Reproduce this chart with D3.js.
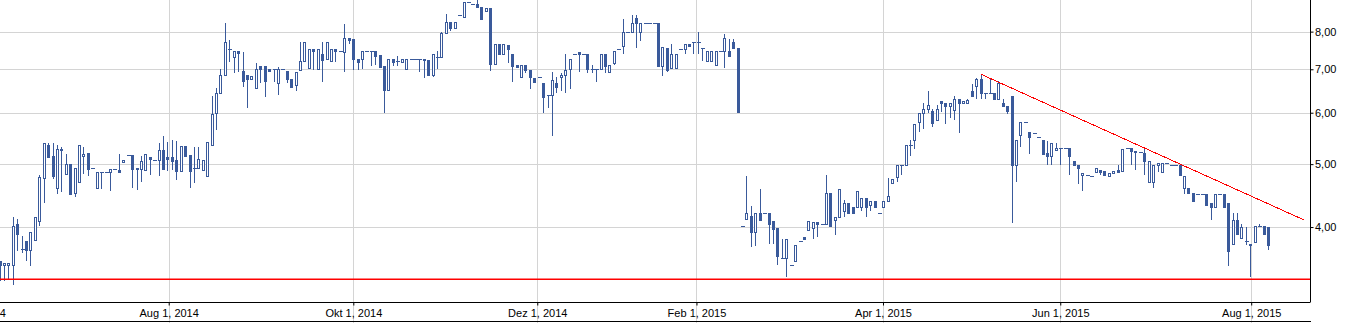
<!DOCTYPE html>
<html>
<head>
<meta charset="utf-8">
<script src="https://cdn.jsdelivr.net/npm/d3@7"></script>
<style>
  body { margin: 0; background: #fff; }
  text { font-family: "Liberation Sans", Arial, sans-serif; font-size: 11px; fill: #000; }
</style>
</head>
<body>
<div id="chart"></div>
<script>
// daily candles, one per trading record (index = position on x axis)
const open = [
  3.55,3.49,3.49,3.49,4.05,3.70,3.81,3.69,3.82,4.09, 4.76,5.36,5.14,4.60,5.27,4.83,5.01,4.52,4.70,5.14,
  5.20,4.93,4.60,4.86,4.86,4.86,4.91,4.89,5.04,5.16, 5.16,4.91,4.91,4.89,5.12,5.08,5.08,5.25,5.12,5.12,
  5.08,4.88,5.33,5.16,4.93,4.93,4.90,4.80,5.35,5.99, 6.43,6.86,7.51,7.30,7.46,6.96,6.85,6.77,6.54,7.07,
  7.07,7.00,7.00,6.66,7.00,6.96,6.76,6.61,6.98,7.20, 7.02,7.51,7.00,7.40,7.25,7.22,7.51,7.46,7.43,7.81,
  7.78,7.27,7.27,7.48,7.48,7.46,7.36,7.08,6.51,7.25, 7.21,7.19,7.00,7.25,7.25,7.27,7.27,7.23,6.85,7.30,
  7.30,7.97,8.29,8.09,8.50,8.44,8.88,8.81,8.81,8.72, 8.62,8.69,7.12,7.65,7.40,7.62,7.40,7.10,6.80,7.10,
  6.98,6.78,6.80,6.66,6.38,6.38,6.66,6.80,6.85,7.00, 7.40,7.43,7.40,7.40,7.00,7.00,7.00,7.40,6.93,7.15,
  7.51,7.60,8.00,8.00,8.41,8.00,8.24,8.24,8.24,8.24, 7.07,7.54,7.02,7.02,7.51,7.51,7.67,7.72,7.72,7.54,
  7.20,7.20,7.10,7.48,7.48,7.46,7.70,7.54,4.02,4.11, 4.16,3.93,4.20,4.20,4.21,4.08,3.98,3.59,3.59,3.49,
  3.54,3.80,3.86,3.96,3.98,4.07,4.05,4.05,4.52,4.10, 4.15,4.24,4.35,4.29,4.30,4.30,4.44,4.32,4.38,4.20,
  4.29,4.38,4.67,4.77,4.98,4.99,5.36,5.44,5.80,5.99, 6.07,6.03,5.84,6.25,6.20,6.14,6.05,6.29,6.20,6.20,
  6.49,6.59,6.76,6.43,6.43,6.43,6.29,6.20,6.14,6.36, 4.99,5.54,5.80,5.60,5.58,5.50,5.44,5.21,5.14,5.25,
  5.30,5.30,5.30,5.05,4.99,4.81,4.81,4.79,4.86,4.89, 4.88,4.79,4.84,4.89,4.88,5.29,5.29,5.24,5.22,5.20,
  4.70,4.70,4.99,4.86,5.02,4.99,4.99,4.99,4.60,4.60, 4.52,4.50,4.50,4.49,4.35,4.30,4.49,4.49,4.35,3.76,
  4.10,3.85,3.80,3.77,3.79,4.02,4.02,4.00
];
const high = [
  3.55,3.52,3.52,4.14,4.11,3.88,3.81,3.93,4.15,4.81, 5.38,5.38,5.38,5.36,5.32,5.19,5.01,4.93,5.36,5.31,
  5.20,4.93,4.86,4.86,4.86,4.91,4.91,5.19,5.08,5.16, 5.16,4.94,5.14,5.18,5.12,5.08,5.38,5.52,5.40,5.44,
  5.42,5.33,5.33,5.16,5.31,5.32,5.07,5.40,6.37,6.54, 7.01,8.24,7.76,7.48,7.46,7.44,6.85,6.83,7.15,7.07,
  7.07,7.00,7.00,7.05,7.00,6.96,6.76,6.93,7.70,7.70, 7.51,7.51,7.51,7.70,7.70,7.51,7.51,7.46,8.22,7.81,
  7.78,7.27,7.46,7.48,7.48,7.46,7.36,7.08,7.25,7.25, 7.33,7.27,7.25,7.25,7.25,7.27,7.27,7.23,7.40,7.46,
  7.98,8.51,8.29,8.29,8.50,8.88,8.88,8.81,8.95,8.72, 8.69,8.69,7.65,7.65,7.67,7.62,7.40,7.10,7.10,7.10,
  6.98,6.78,6.80,6.66,6.38,6.93,6.80,6.92,7.40,7.27, 7.40,7.43,7.40,7.40,7.10,7.00,7.40,7.40,7.10,7.46,
  7.51,8.38,8.00,8.50,8.50,8.24,8.24,8.24,8.24,8.24, 7.57,7.54,7.66,7.40,7.51,7.67,7.67,7.72,7.98,7.54,
  7.48,7.48,7.48,7.48,7.93,7.78,7.78,7.54,4.02,4.79, 4.31,4.20,4.58,4.20,4.21,4.08,3.98,3.84,3.83,3.49,
  3.75,3.80,3.86,4.08,4.07,4.07,4.05,4.81,4.52,4.15, 4.58,4.40,4.35,4.29,4.54,4.44,4.44,4.38,4.38,4.20,
  4.38,4.76,4.74,4.98,4.98,5.36,5.44,5.76,5.99,6.20, 6.47,6.07,6.16,6.25,6.20,6.20,6.36,6.29,6.25,6.29,
  6.64,6.79,6.88,6.43,6.76,6.43,6.71,6.31,6.14,6.36, 5.44,5.80,5.80,5.60,5.58,5.50,5.44,5.42,5.38,5.38,
  5.30,5.30,5.30,5.05,4.99,4.84,4.81,4.79,4.94,4.89, 4.88,4.84,4.88,4.99,5.27,5.29,5.29,5.24,5.22,5.27,
  5.05,4.99,5.02,5.02,5.02,4.99,4.99,4.99,4.79,4.60, 4.52,4.50,4.50,4.49,4.35,4.49,4.49,4.49,4.35,4.20,
  4.20,4.05,4.00,3.77,4.02,4.04,4.02,4.00
];
const low = [
  3.30,3.30,3.31,3.26,3.68,3.65,3.54,3.48,3.82,4.01, 4.35,5.11,4.74,4.49,4.53,4.83,4.49,4.45,4.70,4.83,
  4.80,4.93,4.60,4.58,4.86,4.55,4.91,4.87,5.04,5.16, 4.59,4.56,4.70,4.89,4.81,5.08,4.80,4.92,4.88,4.89,
  4.73,4.88,5.14,4.59,4.68,4.93,4.90,4.80,5.35,5.65, 6.43,6.86,7.19,6.90,6.94,6.58,6.11,6.77,6.54,6.66,
  6.35,6.96,6.70,6.40,7.00,6.66,6.58,6.48,6.98,7.20, 7.02,6.98,7.00,6.70,7.25,7.22,7.19,7.46,6.94,7.67,
  6.98,6.98,7.00,7.48,7.08,7.11,7.05,5.99,6.51,7.09, 7.09,7.19,7.00,7.25,7.25,6.94,6.79,6.85,6.82,7.00,
  7.30,7.97,8.02,8.09,8.50,8.44,8.88,8.81,8.69,8.37, 8.62,6.96,7.12,7.40,7.40,7.15,6.70,7.06,6.80,6.90,
  6.52,6.70,6.80,5.99,6.10,5.53,6.43,6.48,6.43,6.52, 7.40,6.94,7.40,6.90,6.90,6.70,7.00,6.90,6.90,7.10,
  7.51,7.40,8.00,8.00,7.54,7.75,8.24,8.24,8.24,7.06, 6.83,6.94,7.02,7.02,7.51,7.40,7.60,7.40,7.40,7.20,
  7.20,7.20,7.10,7.48,7.02,7.35,7.54,6.01,4.02,4.11, 3.72,3.74,4.10,4.20,3.77,3.76,3.49,3.59,3.35,3.49,
  3.54,3.80,3.84,3.96,3.84,3.86,4.05,4.05,4.02,3.89, 4.15,4.15,4.20,4.20,4.30,4.24,4.14,4.24,4.30,4.20,
  4.29,4.38,4.67,4.70,4.81,4.99,5.14,5.27,5.61,5.67, 5.99,5.70,5.84,6.01,5.76,5.88,5.84,5.59,6.20,6.20,
  6.36,6.31,6.29,6.29,6.43,6.27,6.29,6.14,5.97,4.06, 4.70,5.32,5.80,5.19,5.58,5.50,5.19,4.99,4.99,5.25,
  4.99,5.30,4.81,4.99,4.66,4.54,4.81,4.79,4.86,4.81, 4.81,4.79,4.84,4.86,4.88,5.29,4.99,4.89,5.22,4.81,
  4.70,4.60,4.86,4.86,5.02,4.99,4.99,4.81,4.50,4.49, 4.39,4.50,4.50,4.32,4.10,4.30,4.49,4.30,3.48,3.76,
  3.90,3.85,3.75,3.35,3.79,4.02,3.90,3.69
];
const close = [
  3.49,3.52,3.52,4.02,3.90,3.70,3.69,3.93,4.15,4.77, 5.38,5.13,4.80,5.27,5.25,5.01,4.49,4.93,5.36,5.19,
  4.92,4.93,4.86,4.86,4.86,4.91,4.91,4.87,5.08,5.16, 4.91,4.94,5.05,5.18,5.10,5.08,5.25,4.92,5.10,5.05,
  4.88,5.33,5.14,4.88,4.93,5.10,5.07,5.40,5.97,6.43, 6.85,7.70,7.51,7.48,7.41,6.71,6.77,6.83,7.00,7.00,
  6.71,6.96,7.00,7.00,7.00,6.76,6.58,6.93,7.20,7.70, 7.51,7.47,7.51,7.23,7.70,7.51,7.47,7.46,7.81,7.76,
  7.26,7.19,7.46,7.48,7.48,7.33,7.05,6.51,7.25,7.19, 7.21,7.27,7.25,7.25,7.25,7.27,7.23,6.85,7.40,7.30,
  7.95,8.29,8.09,8.29,8.50,8.88,8.88,8.81,8.72,8.37, 8.69,7.12,7.65,7.40,7.67,7.51,7.09,7.06,7.10,6.98,
  6.80,6.70,6.80,6.35,6.38,6.73,6.58,6.85,6.98,7.27, 7.40,7.40,7.40,7.00,7.00,7.00,7.40,7.07,7.10,7.46,
  7.51,8.00,8.00,8.24,8.26,8.24,8.24,8.24,8.24,7.09, 7.57,6.98,7.40,7.40,7.51,7.67,7.60,7.72,7.72,7.54,
  7.48,7.48,7.48,7.48,7.81,7.35,7.54,6.01,4.02,4.20, 3.93,4.20,4.10,4.20,4.05,3.97,3.61,3.59,3.83,3.49,
  3.75,3.80,3.84,4.08,4.07,4.05,4.05,4.52,4.02,4.15, 4.58,4.35,4.20,4.20,4.54,4.44,4.29,4.38,4.30,4.20,
  4.38,4.46,4.74,4.98,4.98,5.36,5.35,5.76,5.99,6.07, 6.16,5.78,6.09,6.20,6.14,6.20,6.31,6.20,6.25,6.27,
  6.36,6.76,6.43,6.43,6.43,6.29,6.66,6.14,6.03,4.99, 5.44,5.80,5.80,5.50,5.58,5.50,5.19,5.14,5.38,5.30,
  5.30,5.30,5.14,4.99,4.93,4.84,4.81,4.79,4.94,4.86, 4.81,4.84,4.88,4.86,5.27,5.29,5.24,5.22,5.22,5.05,
  5.05,4.99,5.02,5.02,5.02,4.99,4.99,4.81,4.79,4.52, 4.39,4.50,4.50,4.32,4.30,4.49,4.49,4.30,3.68,4.10,
  3.90,4.00,3.80,3.75,4.02,4.02,3.90,3.75
];

// x axis labels and the (fractional) candle index where each falls
const tickLabels = ["Jun 1, 2014", "Aug 1, 2014", "Okt 1, 2014", "Dez 1, 2014", "Feb 1, 2015", "Apr 1, 2015", "Jun 1, 2015", "Aug 1, 2015"];
const tickIndex = [-5.2, 38.28, 80.05, 121.67, 157.69, 199.89, 240.0, 283.2];
const priceTicks = [4, 5, 6, 7, 8];

// drawn lines: support level and falling trend line [index, price]
const supportLevel = 3.33;
const trendLine = [[222, 6.88], [295.2, 4.10]];

const width = 1351, height = 323;
const plotW = 1310, plotH = 302;
const candleColor = "#3a5a9b";
const lineRed = "#ff0000";

const data = open.map((o, i) => ({ i, o, h: high[i], l: low[i], c: close[i] }));

const svg = d3.select("#chart").append("svg")
  .attr("width", width)
  .attr("height", height);

const x = d3.scaleLinear().domain([0, 296.5]).range([-0.5, plotW]);
const y = d3.scaleLog().domain([3.066, 8.95]).range([plotH, 0]);

// grid
const grid = svg.append("g").attr("stroke", "#d4d4d4").attr("stroke-width", 1).attr("shape-rendering", "crispEdges");
grid.selectAll(".hg").data(priceTicks).enter().append("line")
  .attr("x1", 0).attr("x2", plotW)
  .attr("y1", d => Math.round(y(d)) + 0.5).attr("y2", d => Math.round(y(d)) + 0.5);
grid.selectAll(".vg").data(tickIndex).enter().append("line")
  .attr("x1", d => Math.round(x(d)) + 0.5).attr("x2", d => Math.round(x(d)) + 0.5)
  .attr("y1", 0).attr("y2", height);

svg.append("clipPath").attr("id", "plot-clip")
  .append("rect").attr("x", 0).attr("y", 0).attr("width", plotW).attr("height", plotH);

const plot = svg.append("g").attr("clip-path", "url(#plot-clip)");

// candles
const cx = d => Math.round(x(d.i)) + 0.5;
const candles = plot.append("g").attr("shape-rendering", "crispEdges");

candles.selectAll(".wick").data(data.filter(d => d.h > d.l)).enter().append("line")
  .attr("class", "wick")
  .attr("x1", cx).attr("x2", cx)
  .attr("y1", d => Math.round(y(d.h))).attr("y2", d => Math.round(y(d.l)))
  .attr("stroke", candleColor).attr("stroke-width", 1);

data.forEach(d => {
  const top = Math.round(y(Math.max(d.o, d.c)));
  const bot = Math.round(y(Math.min(d.o, d.c)));
  const c = cx(d);
  if (bot - top < 1) {
    candles.append("line")
      .attr("x1", c - 2).attr("x2", c + 2)
      .attr("y1", top + 0.5).attr("y2", top + 0.5)
      .attr("stroke", candleColor).attr("stroke-width", 1);
  } else if (d.c > d.o) {
    candles.append("rect")
      .attr("x", c - 1).attr("width", 2)
      .attr("y", top + 0.5).attr("height", bot - top)
      .attr("fill", "#fff").attr("stroke", candleColor).attr("stroke-width", 1);
  } else {
    candles.append("rect")
      .attr("x", c - 1.5).attr("width", 3)
      .attr("y", top).attr("height", bot - top + 1)
      .attr("fill", candleColor);
  }
});

// support line (drawn as a 2px-high filled band so it stays clearly red)
svg.append("rect")
  .attr("x", 0).attr("width", plotW)
  .attr("y", Math.round(y(supportLevel)) - 0.5).attr("height", 1.5)
  .attr("fill", lineRed);

// trend line
plot.append("line")
  .attr("x1", x(trendLine[0][0])).attr("y1", y(trendLine[0][1]))
  .attr("x2", x(trendLine[1][0])).attr("y2", y(trendLine[1][1]))
  .style("stroke", lineRed).style("stroke-width", "1px")
  .attr("shape-rendering", "crispEdges");

// axes
const fmt = d => d3.format(".2f")(d).replace(".", ",");

svg.append("g")
  .attr("transform", `translate(0,${plotH + 0.5})`)
  .call(d3.axisBottom(x).tickValues(tickIndex).tickFormat((d, i) => tickLabels[i]).tickSize(3).tickSizeOuter(0).tickPadding(3.5))
  .call(g => g.select(".domain").attr("d", `M0,0H${plotW}`).attr("stroke", "#000"))
  .call(g => g.selectAll(".tick line").attr("stroke", "#000"))
  .call(g => g.selectAll("text").attr("font-size", 11).attr("font-family", "Liberation Sans, Arial, sans-serif"));

svg.append("g")
  .attr("transform", `translate(${plotW + 0.5},0)`)
  .call(d3.axisRight(y).tickValues(priceTicks).tickFormat(fmt).tickSize(3).tickSizeOuter(0).tickPadding(1.5))
  .call(g => g.select(".domain").attr("d", `M0,0V${plotH + 0.5}`).attr("stroke", "#000"))
  .call(g => g.selectAll(".tick line").attr("stroke", "#000"))
  .call(g => g.selectAll("text").attr("font-size", 11).attr("font-family", "Liberation Sans, Arial, sans-serif"));

// bottom frame line
svg.append("line")
  .attr("x1", 0).attr("x2", plotW + 1)
  .attr("y1", 321.5).attr("y2", 321.5)
  .attr("stroke", "#000").attr("stroke-width", 1);
</script>
</body>
</html>
